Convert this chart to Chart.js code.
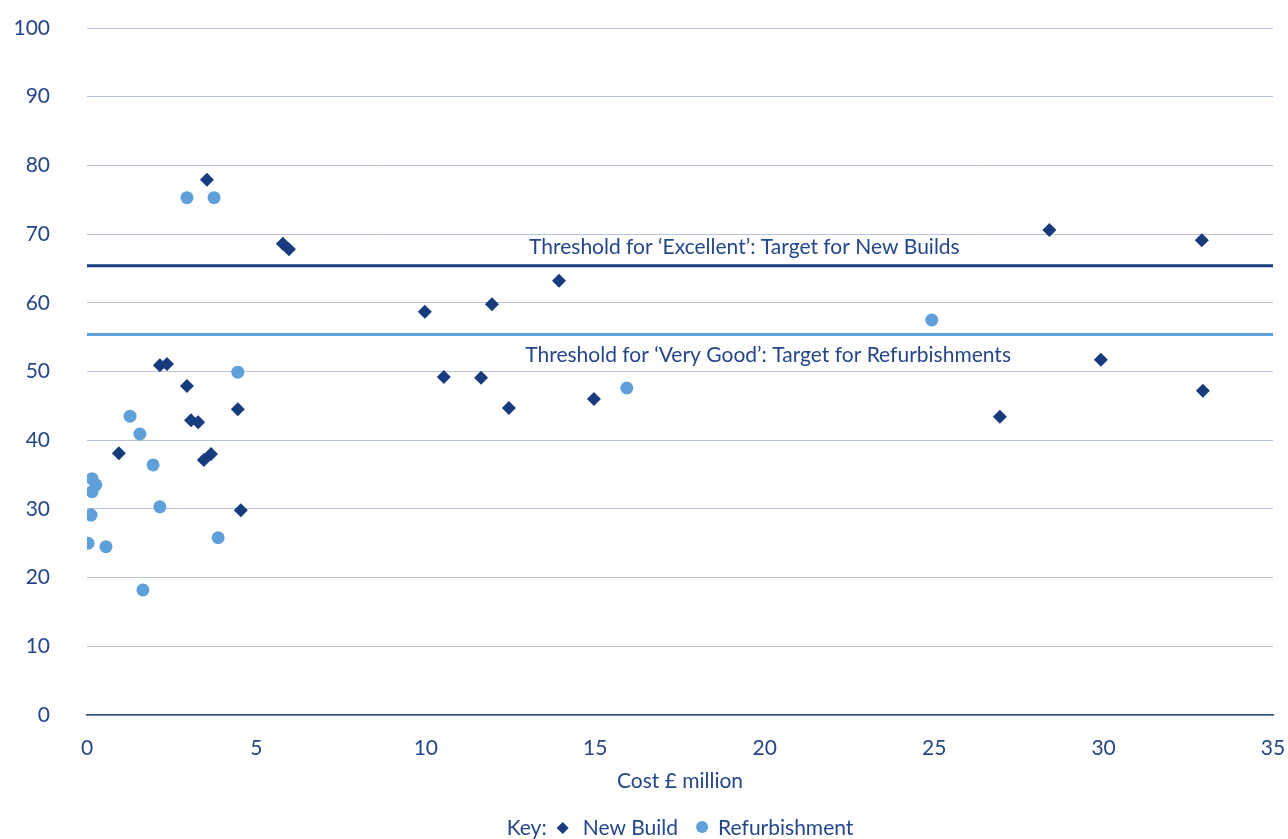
<!DOCTYPE html>
<html>
<head>
<meta charset="utf-8">
<script src="https://cdn.jsdelivr.net/npm/chart.js@4/dist/chart.umd.min.js"></script>
<style>
  html, body { margin: 0; padding: 0; background: #fff; }
  #wrap { width: 1288px; height: 839px; }
</style>
</head>
<body>
<div id="wrap"><canvas id="scoreChart"></canvas></div>
<script>
// Data
const newBuildCost = [3.54, 5.78, 5.96, 28.4, 32.9, 9.97, 11.95, 13.93, 2.15, 2.36, 2.95, 3.07, 3.28, 0.94, 3.45, 3.66, 4.45, 4.54, 10.53, 11.63, 12.45, 14.96, 29.92, 26.94, 32.93];
const newBuildScore = [77.9, 68.6, 67.8, 70.6, 69.1, 58.7, 59.8, 63.2, 50.9, 51.1, 47.9, 42.9, 42.6, 38.1, 37.1, 38.0, 44.5, 29.8, 49.2, 49.1, 44.7, 46.0, 51.7, 43.4, 47.2];

const refurbCost = [2.95, 3.75, 4.45, 1.27, 1.56, 1.95, 0.15, 0.26, 0.15, 0.12, 2.15, 0.03, 0.56, 3.87, 1.65, 24.93, 15.93];
const refurbScore = [75.3, 75.3, 49.9, 43.5, 40.9, 36.4, 34.4, 33.5, 32.5, 29.1, 30.3, 25.0, 24.5, 25.8, 18.2, 57.5, 47.6];

const thresholdNames = ["Threshold for \u2018Excellent\u2019: Target for New Builds", "Threshold for \u2018Very Good\u2019: Target for Refurbishments"];
const thresholdValues = [65.4, 55.4];
const xRange = [0, 35];

const TEXT = "#24468a";
const DARK = "#173b7c";
const LIGHT = "#5fa0da";
const FONT = "Lato, 'Noto Sans', sans-serif";
const SIZE = 21;

const toPoints = (xs, ys) => xs.map((x, i) => ({ x: x, y: ys[i] }));

// threshold captions + key drawn on the canvas
const captionPlugin = {
    id: "captions",
    afterDatasetsDraw(chart) {
        const ctx = chart.ctx;
        const xs = chart.scales.x, ys = chart.scales.y;
        ctx.save();
        ctx.font = SIZE + "px " + FONT;
        ctx.fillStyle = TEXT;
        ctx.textAlign = "center";
        ctx.textBaseline = "middle";
        ctx.fillText(thresholdNames[0], xs.getPixelForValue(19.4), ys.getPixelForValue(68.1));
        ctx.fillText(thresholdNames[1], xs.getPixelForValue(20.1), ys.getPixelForValue(52.4));

        // key
        const y = 828;
        const parts = ["Key:", "New Build", "Refurbishment"];
        const w0 = ctx.measureText(parts[0]).width;
        const w1 = ctx.measureText(parts[1]).width;
        const w2 = ctx.measureText(parts[2]).width;
        const total = w0 + 16 + 14 + 8 + w1 + 18 + 14 + 6 + w2;
        let x = (chart.chartArea.left + chart.chartArea.right) / 2 - total / 2;
        ctx.textAlign = "left";
        ctx.fillText(parts[0], x, y);
        x += w0 + 16;
        ctx.fillStyle = DARK;
        ctx.beginPath();
        ctx.moveTo(x - 6, y); ctx.lineTo(x, y - 6); ctx.lineTo(x + 6, y); ctx.lineTo(x, y + 6);
        ctx.closePath(); ctx.fill();
        x += 14 + 6;
        ctx.fillStyle = TEXT;
        ctx.fillText(parts[1], x, y);
        x += w1 + 24;
        ctx.fillStyle = LIGHT;
        ctx.beginPath(); ctx.arc(x, y - 1, 6, 0, Math.PI * 2); ctx.fill();
        x += 14 + 2;
        ctx.fillStyle = TEXT;
        ctx.fillText(parts[2], x, y);
        ctx.restore();
    }
};

new Chart(document.getElementById("scoreChart"), {
    type: "scatter",
    data: {
        datasets: [
            {
                type: "line",
                label: thresholdNames[0],
                data: xRange.map(x => ({ x: x, y: thresholdValues[0] })),
                borderColor: DARK,
                borderWidth: 3,
                pointRadius: 0
            },
            {
                type: "line",
                label: thresholdNames[1],
                data: xRange.map(x => ({ x: x, y: thresholdValues[1] })),
                borderColor: LIGHT,
                borderWidth: 3,
                pointRadius: 0
            },
            {
                label: "New Build",
                data: toPoints(newBuildCost, newBuildScore),
                pointStyle: "rectRot",
                pointRadius: 7,
                backgroundColor: DARK,
                borderColor: DARK,
                borderWidth: 0
            },
            {
                label: "Refurbishment",
                data: toPoints(refurbCost, refurbScore),
                pointStyle: "circle",
                pointRadius: 6.5,
                backgroundColor: LIGHT,
                borderColor: LIGHT,
                borderWidth: 0
            }
        ]
    },
    options: {
        responsive: true,
        maintainAspectRatio: false,
        animation: false,
        layout: { padding: { left: 0, right: 15, top: 28, bottom: 42 } },
        plugins: {
            legend: { display: false },
            tooltip: { enabled: false }
        },
        scales: {
            x: {
                type: "linear",
                min: 0,
                max: 35,
                ticks: { stepSize: 5, color: TEXT, font: { family: FONT, size: SIZE }, padding: 21, maxRotation: 0 },
                grid: { display: false, drawTicks: false },
                border: { display: true, color: "#2a4a85", width: 1.5 },
                title: { display: true, text: "Cost \u00a3 million", color: TEXT, font: { family: FONT, size: SIZE }, padding: { top: 4, bottom: 3 } },
                afterFit(scale) {
                    scale.height = 82;
                    scale.paddingLeft = 0;
                    scale.paddingRight = 0;
                }
            },
            y: {
                min: 0,
                max: 100,
                ticks: { stepSize: 10, color: TEXT, font: { family: FONT, size: SIZE }, padding: 37 },
                grid: { color: "#b7c3d9", lineWidth: 1, drawTicks: false },
                border: { display: false },
                afterFit(scale) {
                    scale.width = 87;
                    scale.paddingTop = 0;
                    scale.paddingBottom = 0;
                }
            }
        }
    },
    plugins: [captionPlugin]
});
</script>
</body>
</html>
